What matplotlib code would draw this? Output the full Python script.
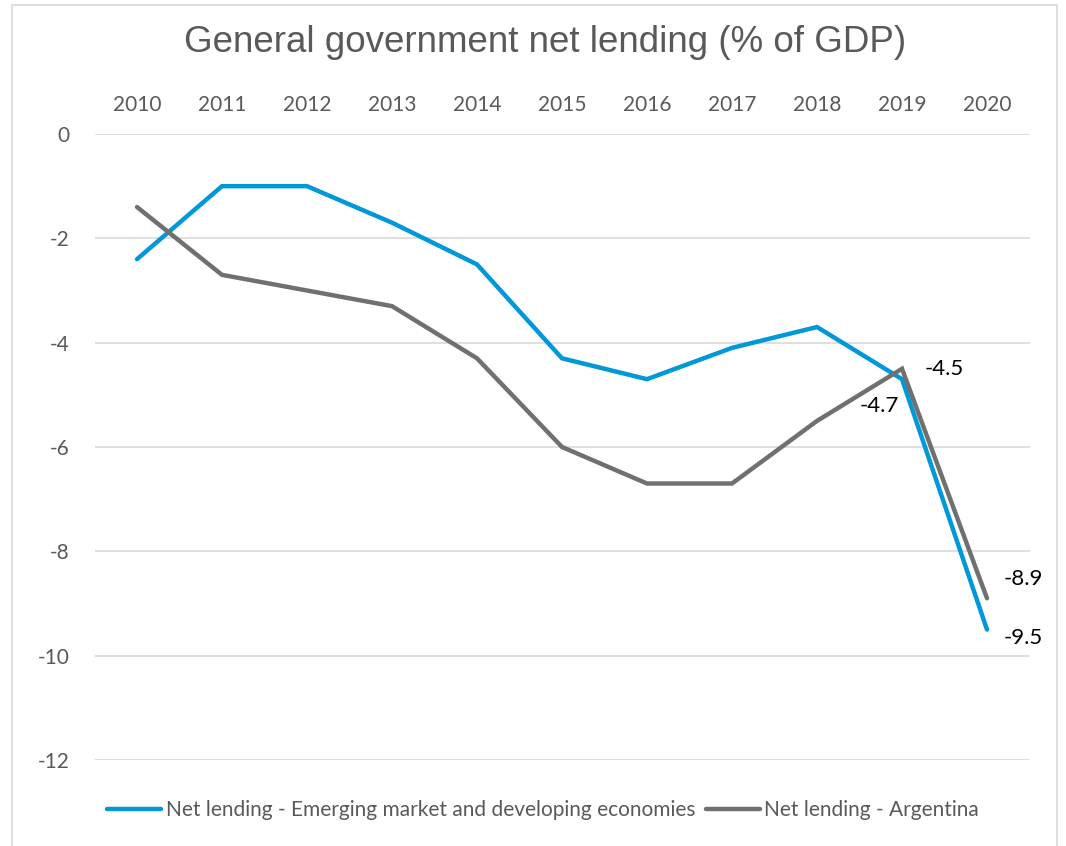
import matplotlib
matplotlib.use("Agg")
import matplotlib.pyplot as plt
from matplotlib.patches import Rectangle

years = ["2010", "2011", "2012", "2013", "2014", "2015", "2016", "2017", "2018", "2019", "2020"]
emde = [-2.4, -1.0, -1.0, -1.7, -2.5, -4.3, -4.7, -4.1, -3.7, -4.7, -9.5]
argentina = [-1.4, -2.7, -3.0, -3.3, -4.3, -6.0, -6.7, -6.7, -5.5, -4.5, -8.9]
y_ticks = [0, -2, -4, -6, -8, -10, -12]
series_names = ["Net lending - Emerging market and developing economies",
                "Net lending - Argentina"]

BLUE = "#0098D8"
GREY = "#707070"
TEXT = "#595959"
GRID = "#D9D9D9"

plt.rcParams['font.family'] = ['Lato', 'DejaVu Sans']

fig = plt.figure(figsize=(10.66, 8.46), dpi=100)
fig.patches.append(Rectangle((12 / 1066, -0.01), 1045 / 1066, (846 - 5) / 846 + 0.01,
                             transform=fig.transFigure, fill=False,
                             edgecolor=GRID, linewidth=1.2))

ax = fig.add_axes([94.5 / 1066, 86 / 846, 935 / 1066, 626 / 846])
x = list(range(len(years)))
l1, = ax.plot(x, emde, color=BLUE, linewidth=3.2, solid_capstyle='round',
              solid_joinstyle='miter', label=series_names[0], zorder=3)
l2, = ax.plot(x, argentina, color=GREY, linewidth=3.2, solid_capstyle='round',
              solid_joinstyle='miter', label=series_names[1], zorder=3)

ax.set_xlim(-0.5, len(years) - 0.5)
ax.set_ylim(-12, 0)
ax.set_yticks(y_ticks)
ax.set_yticklabels([str(v) for v in y_ticks])
ax.set_xticks(x)
ax.set_xticklabels(years)
ax.xaxis.tick_top()
ax.tick_params(axis='both', length=0, labelsize=15, labelcolor=TEXT)
ax.tick_params(axis='x', pad=14)
ax.tick_params(axis='y', pad=18)
ax.grid(axis='y', color=GRID, linewidth=1.2)
ax.set_axisbelow(True)
for s in ax.spines.values():
    s.set_visible(False)

# value labels for the last two years
lab_kw = dict(fontsize=16, color="black")
ax.annotate(f"{emde[9]}", (9, emde[9]), xytext=(-2, -19), textcoords='offset points',
            ha='right', va='center', **lab_kw)
ax.annotate(f"{argentina[9]}", (9, argentina[9]), xytext=(16, 0), textcoords='offset points',
            ha='left', va='center', **lab_kw)
ax.annotate(f"{argentina[10]}", (10, argentina[10]), xytext=(12, 14), textcoords='offset points',
            ha='left', va='center', **lab_kw)
ax.annotate(f"{emde[10]}", (10, emde[10]), xytext=(12, -6), textcoords='offset points',
            ha='left', va='center', **lab_kw)

fig.text(545 / 1066, 1 - 42 / 846, "General government net lending (% of GDP)",
         ha='center', va='center', fontsize=26.5, color=TEXT, family='Liberation Sans')

fig.legend(handles=[l1, l2], loc='center', bbox_to_anchor=(543 / 1066, 1 - 810 / 846),
           ncol=2, frameon=False, fontsize=15, labelcolor=TEXT,
           handlelength=2.6, handletextpad=0.2, columnspacing=0.5)

fig.savefig("out.png", dpi=100)
